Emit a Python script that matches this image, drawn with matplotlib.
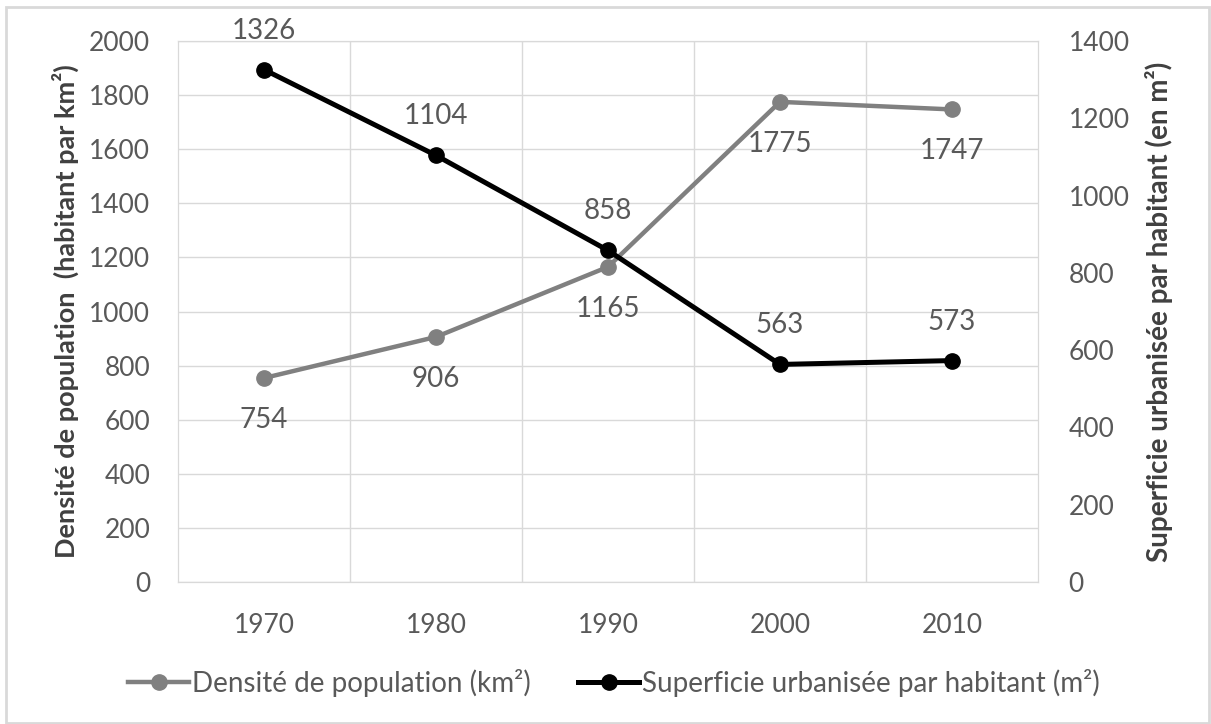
import numpy as np
import matplotlib
matplotlib.use("Agg")
import matplotlib.pyplot as plt
from matplotlib.patches import Rectangle

plt.rcParams['font.family'] = ['Lato', 'DejaVu Sans']

# Data
years = ['1970', '1980', '1990', '2000', '2010']
densite = [754, 906, 1165, 1775, 1747]
superficie = [1326, 1104, 858, 563, 573]

label_densite = 'Densité de population (km²)'
label_superficie = 'Superficie urbanisée par habitant (m²)'

text_grey = '#595959'
grid_grey = '#d9d9d9'

fig = plt.figure(figsize=(12.11, 7.24), dpi=100)
ax1 = fig.add_axes([178 / 1211, 142 / 724, 860 / 1211, 541 / 724])
ax2 = ax1.twinx()

x = np.arange(len(years))

# Gray series on the left axis
l1, = ax1.plot(x, densite, '-o', color='#808080', lw=3.2, ms=11, label=label_densite)
for xi, v in zip(x, densite):
	ax1.annotate(str(v), (xi, v), xytext=(0, -42), textcoords='offset pixels',
		ha='center', va='center', fontsize=20, color=text_grey)

# Black series on the right axis
l2, = ax2.plot(x, superficie, '-o', color='black', lw=3.6, ms=11, label=label_superficie)
for xi, v in zip(x, superficie):
	ax2.annotate(str(v), (xi, v), xytext=(0, 39), textcoords='offset pixels',
		ha='center', va='center', fontsize=20, color=text_grey)

ax1.set_xlim(-0.5, len(years) - 0.5)
ax1.set_ylim(0, 2000)
ax2.set_ylim(0, 1400)
ax1.set_yticks(np.arange(0, 2001, 200))
ax2.set_yticks(np.arange(0, 1401, 200))
ax1.set_xticks(x)
ax1.set_xticklabels(years)
ax1.set_xticks(x[:-1] + 0.5, minor=True)

ax1.grid(True, axis='y', color=grid_grey, lw=1)
ax1.grid(True, axis='x', which='minor', color=grid_grey, lw=1)
ax1.set_axisbelow(True)

for ax in (ax1, ax2):
	for s in ax.spines.values():
		s.set_color(grid_grey)
	ax.tick_params(which='both', length=0, labelsize=19, labelcolor=text_grey)
ax1.tick_params(axis='y', pad=20)
ax2.tick_params(axis='y', pad=22)
ax1.tick_params(axis='x', pad=22)

ax1.set_ylabel('Densité de population  (habitant par km²)', fontsize=19.5,
	fontweight='bold', color='#404040', labelpad=7)
ax2.set_ylabel('Superficie urbanisée par habitant (en m²)', fontsize=20,
	fontweight='bold', color='#404040', labelpad=11)

leg = fig.legend(handles=[l1, l2], loc='center', bbox_to_anchor=(614 / 1211, 1 - 683 / 724),
	ncol=2, frameon=False, fontsize=20, handlelength=2.2, handletextpad=0.1,
	columnspacing=1.7)
for t in leg.get_texts():
	t.set_color(text_grey)

# light border around the whole chart
fig.patches.append(Rectangle((6 / 1211, 1 / 724), 1203 / 1211, 716 / 724,
	transform=fig.transFigure, fill=False, edgecolor=grid_grey, lw=2))

fig.savefig('out.png', dpi=100)
